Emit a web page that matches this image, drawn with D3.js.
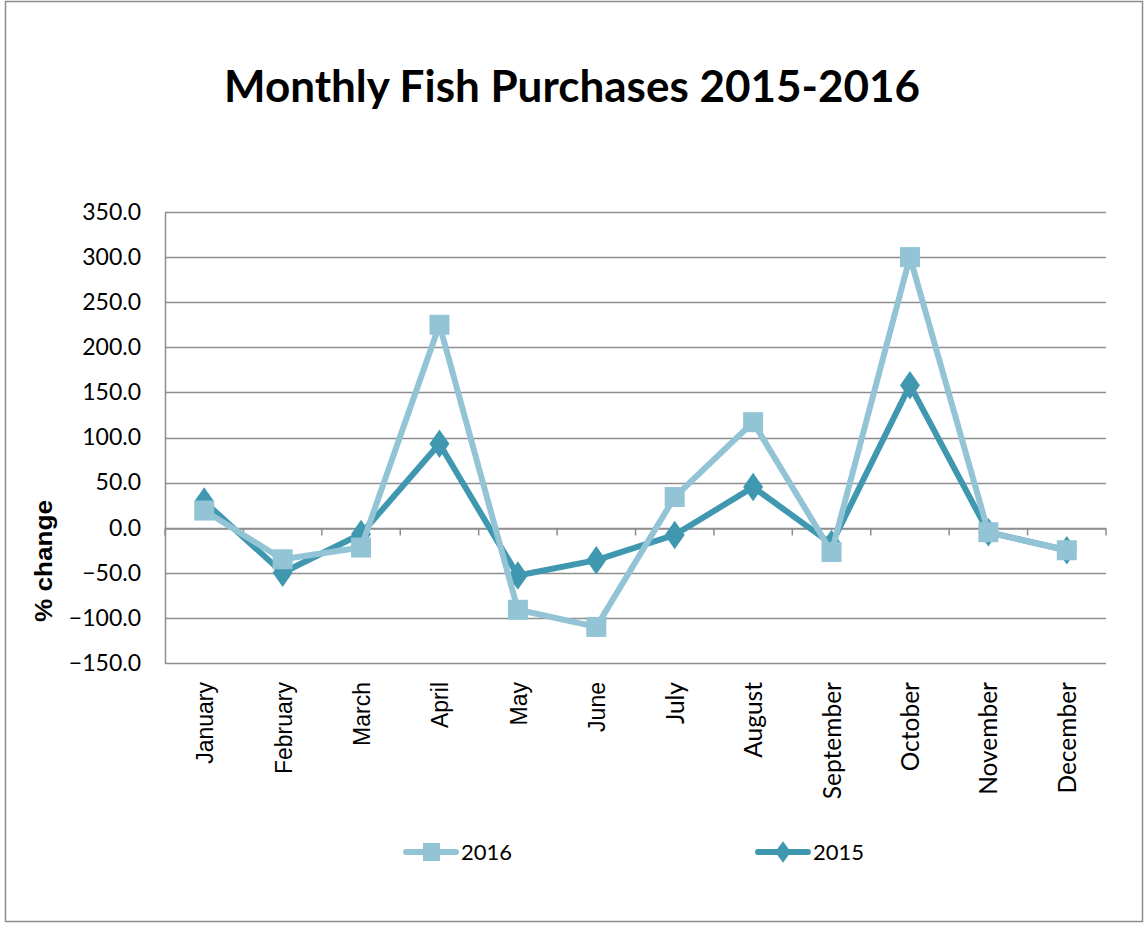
<!DOCTYPE html>
<html>
<head>
<meta charset="utf-8">
<script src="https://cdn.jsdelivr.net/npm/d3@7"></script>
<style>
  body { margin: 0; background: #fff; }
  svg text { fill: #000; }
</style>
</head>
<body>
<div id="svgDiv"></div>
<script>
// data
var months = ['January', 'February', 'March', 'April', 'May', 'June',
    'July', 'August', 'September', 'October', 'November', 'December'];
var values2016 = [19, -35, -22, 225, -91, -110, 34, 117, -27, 300, -5, -25];
var values2015 = [29, -50, -7, 93, -53, -36, -8, 45, -18, 158, -5, -25];
var yTicks = [-150, -100, -50, 0, 50, 100, 150, 200, 250, 300, 350];
var seriesNames = ['2016', '2015'];

var lightColor = '#92c4d6';
var darkColor = '#4098b0';

var svgWidth = 1146, svgHeight = 941;
var plot = { left: 165, right: 1106, top: 212, bottom: 663 };

var svg = d3.select('#svgDiv').append('svg')
    .attr('width', svgWidth)
    .attr('height', svgHeight);

// shadow for the title rule
var defs = svg.append('defs');
var f = defs.append('filter').attr('id', 'shadow')
    .attr('x', '-5%').attr('y', '-300%').attr('width', '110%').attr('height', '700%');
f.append('feDropShadow').attr('dx', 1).attr('dy', 4).attr('stdDeviation', 2.5)
    .attr('flood-color', '#000').attr('flood-opacity', 0.35);

// outer frame
svg.append('rect')
    .attr('x', 5.5).attr('y', 1.5)
    .attr('width', 1137).attr('height', 920)
    .attr('fill', 'none')
    .attr('stroke', '#8c8c8c').attr('stroke-width', 1.5);

// title
svg.append('text')
    .attr('x', 572).attr('y', 102)
    .attr('text-anchor', 'middle')
    .style('font-family', 'Lato, "Open Sans", sans-serif')
    .style('font-weight', 'bold')
    .style('font-size', '44px')
    .text('Monthly Fish Purchases 2015-2016');

svg.append('line')
    .attr('x1', 36).attr('x2', 1133)
    .attr('y1', 142).attr('y2', 142)
    .attr('stroke', '#000').attr('stroke-width', 5)
    .attr('filter', 'url(#shadow)');

// scales
var xScale = d3.scaleBand()
    .domain(months)
    .range([plot.left, plot.right]);
var yScale = d3.scaleLinear()
    .domain([-150, 350])
    .range([plot.bottom, plot.top]);

// gridlines
svg.append('g')
    .selectAll('line')
    .data(yTicks).enter().append('line')
    .attr('x1', plot.left).attr('x2', plot.right)
    .attr('y1', d => Math.round(yScale(d)) + 0.5)
    .attr('y2', d => Math.round(yScale(d)) + 0.5)
    .attr('stroke', '#8e8e8e').attr('stroke-width', 1.5);

// value axis
var yAxis = d3.axisLeft(yScale)
    .tickValues(yTicks)
    .tickSize(0)
    .tickPadding(24)
    .tickFormat(d3.format('.1f'));
var yG = svg.append('g')
    .attr('transform', `translate(${plot.left},0)`)
    .call(yAxis);
yG.select('.domain').attr('stroke', '#8e8e8e').attr('stroke-width', 1.5);
yG.selectAll('text')
    .style('font-family', 'Lato, "Open Sans", sans-serif')
    .style('font-size', '23px');

// category axis crossing at zero
var xAxis = d3.axisBottom(xScale).tickSize(0).tickFormat('');
var xG = svg.append('g')
    .attr('transform', `translate(0,${Math.round(yScale(0)) + 0.5})`)
    .call(xAxis);
xG.select('.domain').attr('stroke', '#8e8e8e').attr('stroke-width', 1.5);
xG.selectAll('.tick').remove();
var boundaries = d3.range(0, months.length + 1).map(i => plot.left + i * xScale.bandwidth());
xG.selectAll('line.tk')
    .data(boundaries).enter().append('line')
    .attr('class', 'tk')
    .attr('x1', d => d).attr('x2', d => d)
    .attr('y1', 0).attr('y2', 7)
    .attr('stroke', '#8e8e8e').attr('stroke-width', 1.5);

// month labels, rotated
svg.append('g')
    .selectAll('text')
    .data(months).enter().append('text')
    .attr('transform', d => `translate(${xScale(d) + xScale.bandwidth() / 2 + 9},682) rotate(-90)`)
    .attr('text-anchor', 'end')
    .style('font-family', (d, i) => i < 6 ? '"Liberation Sans", Arial, sans-serif' : 'Lato, "Open Sans", sans-serif')
    .style('font-size', (d, i) => i < 6 ? '23px' : '24.5px')
    .text(d => d);

// y axis title
svg.append('text')
    .attr('transform', 'translate(52,561) rotate(-90)')
    .attr('text-anchor', 'middle')
    .attr('textLength', 122)
    .attr('lengthAdjust', 'spacingAndGlyphs')
    .style('font-family', '"Liberation Sans", Arial, sans-serif')
    .style('font-weight', 'bold')
    .style('font-size', '23px')
    .text('% change');

// lines
var line = d3.line()
    .x((d, i) => xScale(months[i]) + xScale.bandwidth() / 2)
    .y(d => yScale(d));

var diamond = d3.symbol().type(d3.symbolDiamond).size(260);

function drawDark(g) {
    g.append('path')
        .datum(values2015)
        .attr('d', line)
        .attr('fill', 'none')
        .attr('stroke', darkColor)
        .attr('stroke-width', 6)
        .attr('stroke-linejoin', 'round');
    g.selectAll('path.pt')
        .data(values2015).enter().append('path')
        .attr('class', 'pt')
        .attr('d', diamond)
        .attr('transform', (d, i) => `translate(${xScale(months[i]) + xScale.bandwidth() / 2},${yScale(d)}) scale(1.15,0.95)`)
        .attr('fill', darkColor);
}
function drawLight(g) {
    g.append('path')
        .datum(values2016)
        .attr('d', line)
        .attr('fill', 'none')
        .attr('stroke', lightColor)
        .attr('stroke-width', 6)
        .attr('stroke-linejoin', 'round');
    g.selectAll('rect.pt')
        .data(values2016).enter().append('rect')
        .attr('class', 'pt')
        .attr('x', (d, i) => xScale(months[i]) + xScale.bandwidth() / 2 - 10)
        .attr('y', d => yScale(d) - 10)
        .attr('width', 20).attr('height', 20)
        .attr('fill', lightColor);
}
drawDark(svg.append('g'));
drawLight(svg.append('g'));

// legend
var legend = svg.append('g');
var lg1 = legend.append('g').attr('transform', 'translate(406,852)');
lg1.append('line').attr('x1', 0).attr('x2', 50)
    .attr('stroke', lightColor).attr('stroke-width', 6).attr('stroke-linecap', 'round');
lg1.append('rect').attr('x', 17).attr('y', -9).attr('width', 17).attr('height', 18)
    .attr('fill', lightColor);
lg1.append('text').attr('x', 55).attr('y', 8)
    .style('font-family', 'Lato, "Open Sans", sans-serif')
    .style('font-size', '22px')
    .text(seriesNames[0]);

var lg2 = legend.append('g').attr('transform', 'translate(758,852)');
lg2.append('line').attr('x1', 0).attr('x2', 50)
    .attr('stroke', darkColor).attr('stroke-width', 6).attr('stroke-linecap', 'round');
lg2.append('path').attr('d', d3.symbol().type(d3.symbolDiamond).size(150))
    .attr('transform', 'translate(25,0) scale(1.2,0.95)')
    .attr('fill', darkColor);
lg2.append('text').attr('x', 55).attr('y', 8)
    .style('font-family', 'Lato, "Open Sans", sans-serif')
    .style('font-size', '22px')
    .text(seriesNames[1]);
</script>
</body>
</html>
